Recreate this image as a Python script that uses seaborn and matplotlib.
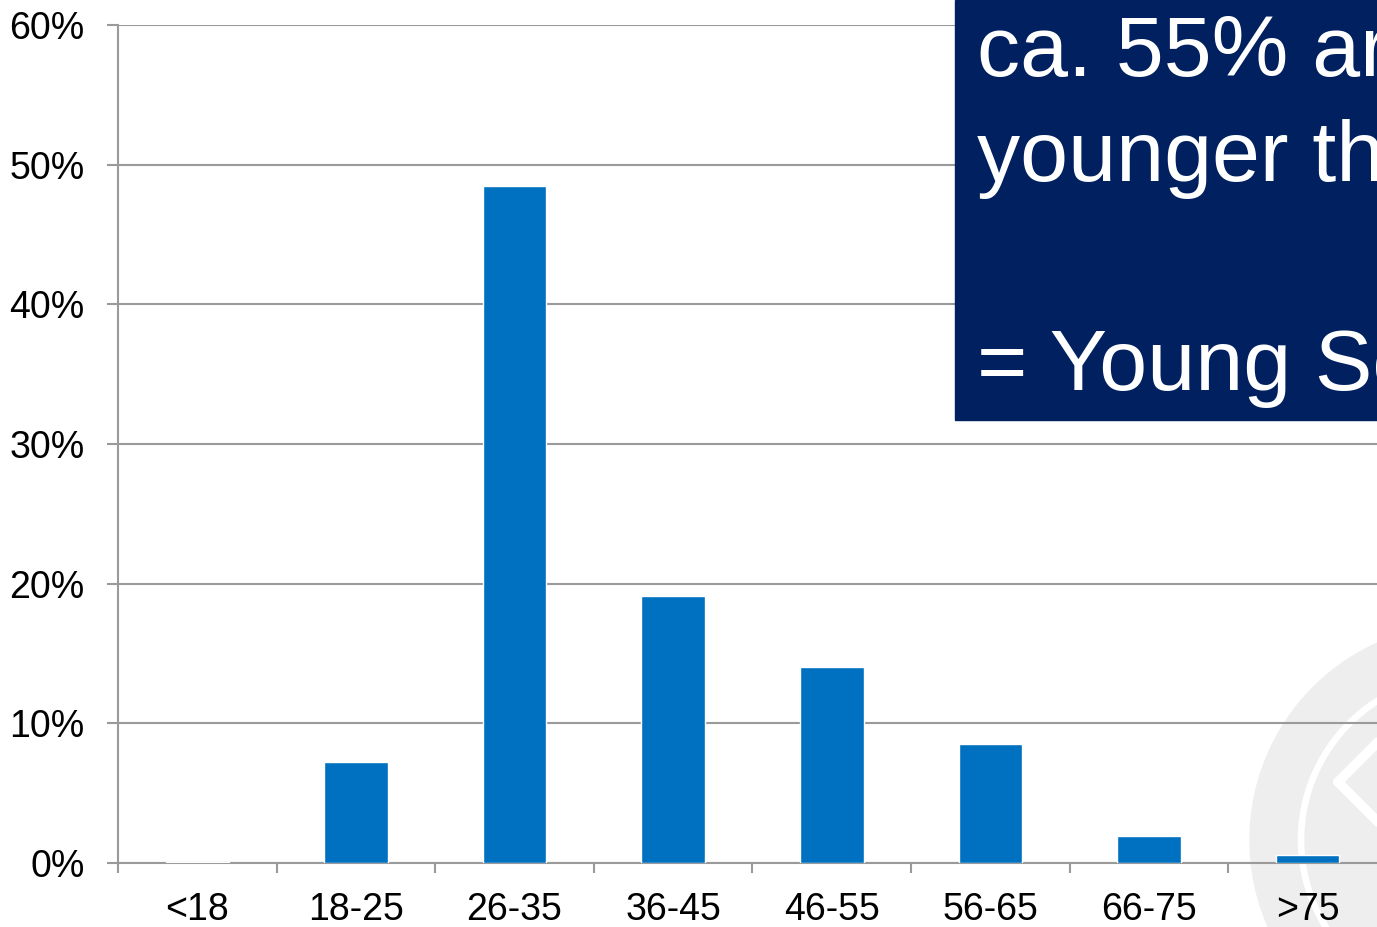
import numpy as np
import pandas as pd
import matplotlib
matplotlib.use("Agg")
import matplotlib.pyplot as plt
import seaborn as sns
from matplotlib.patches import Rectangle, Wedge, Circle
from matplotlib.lines import Line2D
from matplotlib.ticker import FixedLocator, PercentFormatter

# data
age_groups = ["<18", "18-25", "26-35", "36-45", "46-55", "56-65", "66-75", ">75"]
share_pct = [0.1, 7.2, 48.5, 19.1, 14.0, 8.5, 1.9, 0.6]
y_ticks = [0, 10, 20, 30, 40, 50, 60]
box_text = "ca. 55% are\nyounger than 35\n\n= Young Scene"

sns.set_theme(style="white")
plt.rcParams["font.family"] = ["Liberation Sans", "DejaVu Sans"]

df = pd.DataFrame({"age": age_groups, "share": share_pct})

fig = plt.figure(figsize=(13.77, 9.27), dpi=100)
W, H = 1377, 927

# faint logo watermark in the bottom right corner (behind everything)
wm = "#eeeeee"
fig.patches.append(Wedge((1466, H - 840), 216, 0, 360, width=47, color=wm,
                         transform=None, zorder=-2))
fig.patches.append(Circle((1466, H - 840), 161, color=wm, transform=None, zorder=-2))
fig.lines.append(Line2D([1338, 1420], [H - 782, H - 700], color="white", lw=7,
                        transform=None, zorder=-1))
fig.lines.append(Line2D([1338, 1420], [H - 782, H - 864], color="white", lw=7,
                        transform=None, zorder=-1))

ax = fig.add_axes([118 / W, 1 - 863 / H, (1387 - 118) / W, (863 - 25) / H])
ax.patch.set_alpha(0)

sns.barplot(data=df, x="age", y="share", color="#0070C0", width=0.4,
            saturation=1, ax=ax, zorder=3)

grid_c = "#9a9a9a"
ax.set_ylim(0, 60)
ax.set_xlim(-0.5, len(age_groups) - 0.5)
ax.yaxis.set_major_locator(FixedLocator(y_ticks))
ax.yaxis.set_major_formatter(PercentFormatter(decimals=0))
ax.grid(axis="y", color=grid_c, lw=1.5, zorder=0)
ax.grid(axis="x", visible=False)

for side in ["top", "right"]:
    ax.spines[side].set_visible(False)
for side in ["left", "bottom"]:
    ax.spines[side].set_color(grid_c)
    ax.spines[side].set_linewidth(1.5)

ax.tick_params(axis="y", length=8, width=1.5, color=grid_c, pad=16,
               labelsize=27, labelcolor="black", left=True)
ax.tick_params(axis="x", which="major", length=0, pad=21, labelsize=27,
               labelcolor="black")
ax.xaxis.set_minor_locator(FixedLocator(np.arange(-0.5, len(age_groups), 1.0)))
ax.tick_params(axis="x", which="minor", length=7, width=1.5, color=grid_c,
               bottom=True)
ax.set_xlabel("")
ax.set_ylabel("")

# dark blue call-out box, cut off by the right edge
fig.patches.append(Rectangle((955 / W, 1 - 420 / H), 1 - 955 / W + 0.05, 420 / H,
                             transform=fig.transFigure, color="#002060", zorder=5))
fig.text(977 / W, 1 - 14 / H, box_text, color="white", fontsize=62,
         ha="left", va="top", linespacing=1.4, zorder=6)

fig.savefig("out.png", dpi=100)
